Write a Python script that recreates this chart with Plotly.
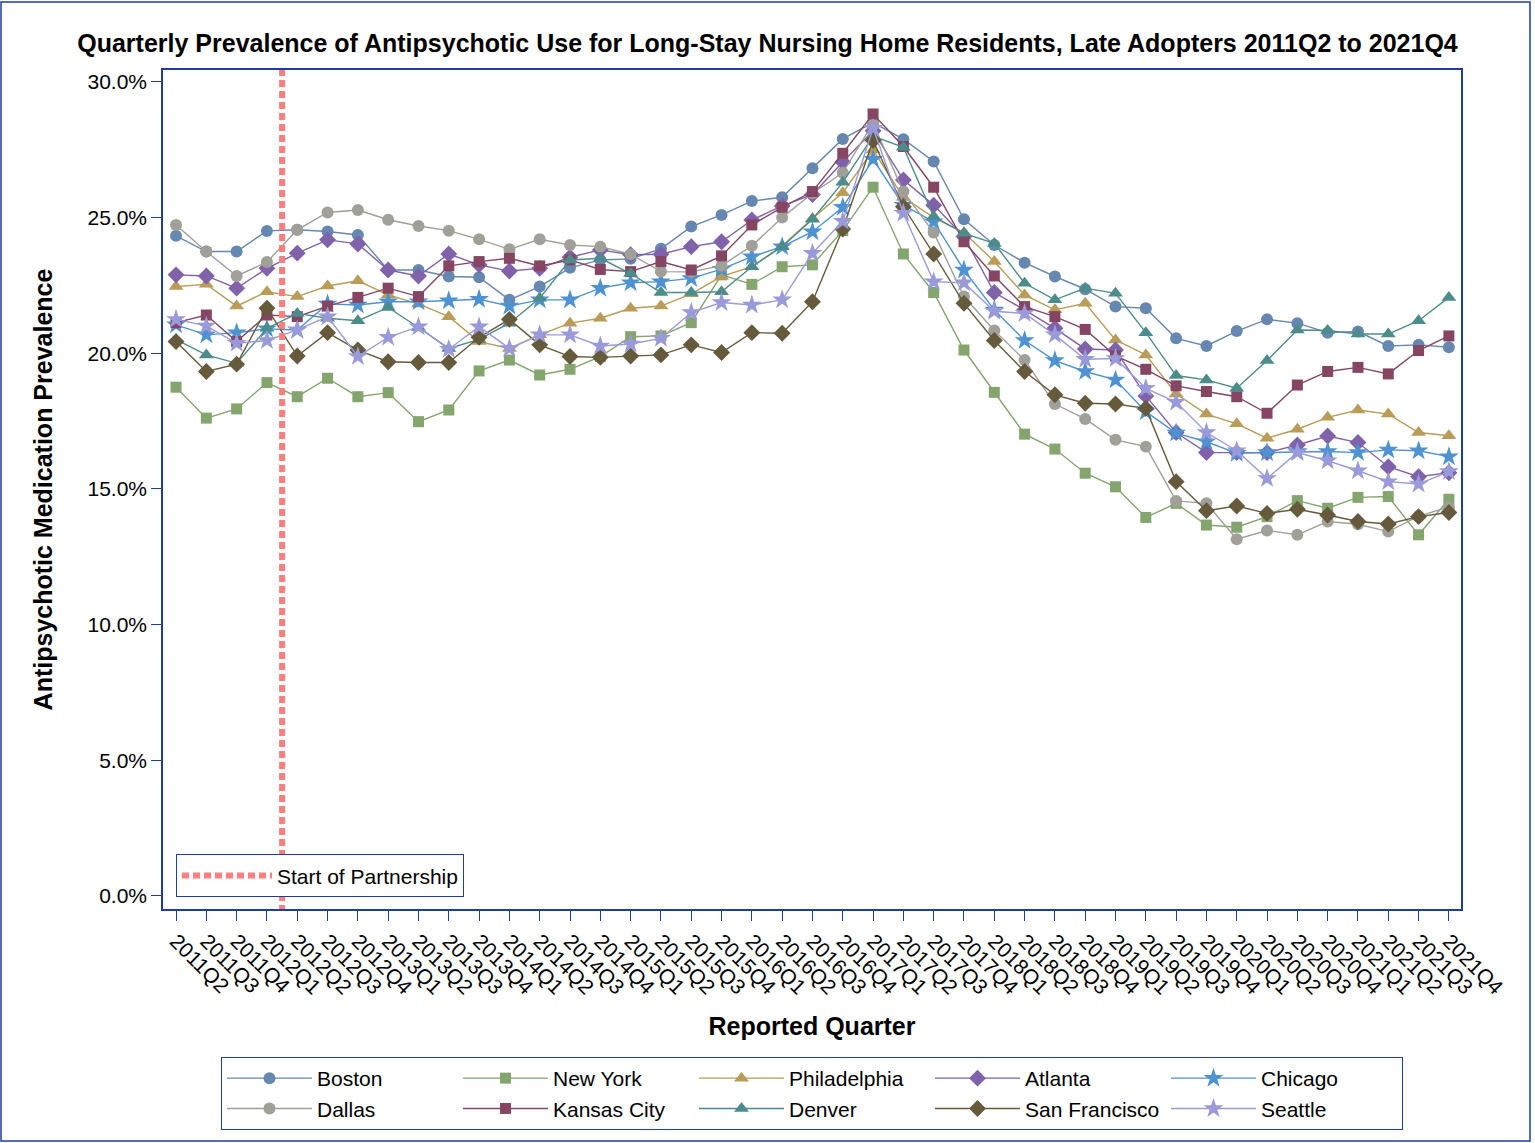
import plotly.graph_objects as go

quarters = ["2011Q2", "2011Q3", "2011Q4"] + [f"{y}Q{q}" for y in range(2012, 2022) for q in range(1, 5)]

boston = [24.33, 23.75, 23.75, 24.51, 24.55, 24.49, 24.36, 23.07, 23.07, 22.83,
          22.80, 21.97, 22.46, 23.15, 23.44, 23.48, 23.85, 24.67, 25.10, 25.61,
          25.75, 26.82, 27.90, 28.50, 27.89, 27.07, 24.94, 23.99, 23.34, 22.83,
          22.36, 21.72, 21.66, 20.55, 20.27, 20.82, 21.25, 21.11, 20.76, 20.80,
          20.27, 20.31, 20.22]
new_york = [18.75, 17.61, 17.95, 18.92, 18.40, 19.08, 18.40, 18.55, 17.48, 17.91,
            19.35, 19.75, 19.20, 19.41, 19.88, 20.61, 20.64, 21.13, 22.89, 22.54,
            23.19, 23.26, 24.52, 26.12, 23.66, 22.24, 20.12, 18.56, 17.02, 16.47,
            15.58, 15.08, 13.95, 14.47, 13.67, 13.59, 13.98, 14.57, 14.29, 14.69,
            14.72, 13.31, 14.62]
philadelphia = [22.46, 22.54, 21.74, 22.27, 22.09, 22.48, 22.67, 22.15, 21.82, 21.35,
                20.43, 20.18, 20.68, 21.11, 21.29, 21.66, 21.74, 22.19, 22.83, 23.19,
                23.96, 24.97, 25.92, 27.49, 25.75, 25.00, 24.45, 23.38, 22.15, 21.60,
                21.84, 20.49, 19.94, 18.50, 17.76, 17.40, 16.87, 17.20, 17.64, 17.91,
                17.76, 17.08, 16.96]
atlanta = [22.89, 22.85, 22.40, 23.13, 23.69, 24.18, 24.03, 23.07, 22.85, 23.66,
           23.26, 23.03, 23.13, 23.54, 23.81, 23.63, 23.65, 23.93, 24.11, 24.91,
           25.43, 25.85, 27.05, 28.20, 26.39, 25.46, 24.30, 22.24, 21.60, 20.92,
           20.16, 20.12, 18.43, 17.08, 16.34, 16.34, 16.34, 16.62, 16.95, 16.71,
           15.82, 15.45, 15.60]
chicago = [21.05, 20.68, 20.76, 20.90, 20.86, 21.82, 21.78, 21.90, 21.90, 21.94,
           21.99, 21.74, 21.97, 21.97, 22.40, 22.60, 22.64, 22.76, 23.10, 23.56,
           23.93, 24.48, 25.38, 27.15, 25.46, 24.85, 23.07, 21.60, 20.47, 19.73,
           19.33, 19.02, 17.85, 17.06, 16.74, 16.32, 16.34, 16.38, 16.38, 16.34,
           16.44, 16.41, 16.19]
dallas = [24.73, 23.75, 22.85, 23.36, 24.55, 25.19, 25.28, 24.92, 24.69, 24.52,
          24.20, 23.83, 24.20, 23.99, 23.93, 23.65, 23.01, 23.00, 23.23, 23.96,
          25.00, 25.90, 26.65, 28.48, 25.96, 24.45, 22.09, 20.84, 19.75, 18.13,
          17.58, 16.81, 16.56, 14.56, 14.47, 13.15, 13.47, 13.31, 13.80, 13.70,
          13.43, 14.00, 14.33]
kansas_city = [21.13, 21.41, 20.43, 21.41, 21.35, 21.74, 22.06, 22.40, 22.09, 23.22,
               23.38, 23.50, 23.22, 23.44, 23.09, 23.01, 23.38, 23.07, 23.59, 24.73,
               25.38, 25.96, 27.37, 28.82, 27.62, 26.12, 24.11, 22.85, 21.72, 21.35,
               20.88, 19.90, 19.41, 18.80, 18.59, 18.40, 17.79, 18.83, 19.33, 19.48,
               19.24, 20.10, 20.64]
denver = [20.50, 19.94, 19.63, 20.92, 21.47, 21.29, 21.20, 21.69, 20.95, 20.18,
          20.51, 21.11, 22.03, 23.44, 23.50, 22.94, 22.24, 22.24, 22.27, 23.19,
          23.93, 24.94, 26.30, 28.00, 27.59, 25.04, 24.42, 24.05, 22.58, 21.97,
          22.40, 22.21, 20.76, 19.18, 19.02, 18.71, 19.73, 20.86, 20.84, 20.71,
          20.71, 21.20, 22.06]
san_francisco = [20.43, 19.33, 19.60, 21.66, 19.90, 20.76, 20.12, 19.69, 19.66, 19.66,
                 20.59, 21.25, 20.31, 19.88, 19.85, 19.90, 19.94, 20.31, 20.03, 20.76,
                 20.74, 21.90, 24.58, 27.84, 25.40, 23.66, 21.84, 20.47, 19.33, 18.47,
                 18.16, 18.13, 17.97, 15.27, 14.20, 14.37, 14.10, 14.25, 14.04, 13.80,
                 13.71, 13.98, 14.13]
seattle = [21.25, 21.01, 20.37, 20.47, 20.86, 21.35, 19.88, 20.59, 20.98, 20.15,
           20.98, 20.18, 20.68, 20.68, 20.27, 20.34, 20.55, 21.50, 21.87, 21.78,
           21.97, 23.69, 24.87, 28.29, 25.16, 22.64, 22.60, 21.55, 21.47, 20.68,
           19.78, 19.81, 18.71, 18.20, 17.08, 16.41, 15.39, 16.34, 16.04, 15.67,
           15.27, 15.18, 15.64]

series_names = ["Boston", "New York", "Philadelphia", "Atlanta", "Chicago",
                "Dallas", "Kansas City", "Denver", "San Francisco", "Seattle"]
series_values = [boston, new_york, philadelphia, atlanta, chicago,
                 dallas, kansas_city, denver, san_francisco, seattle]
colors = ["#6687B0", "#84A56E", "#B89C58", "#7F62AA", "#4E92D2",
          "#A09F98", "#854563", "#4C8C8A", "#665A3C", "#9A9ADA"]
symbols = ["circle", "square", "triangle-up", "diamond", "star",
           "circle", "square", "triangle-up", "diamond", "star"]
sizes = [12, 11, 13, 13, 15, 12, 11, 13, 13, 15]

y_tick_vals = [0, 5, 10, 15, 20, 25, 30]
y_tick_text = ["0.0%", "5.0%", "10.0%", "15.0%", "20.0%", "25.0%", "30.0%"]

partnership_x = 3.5  # between 2012Q1 and 2012Q2

FONT = "Arial, 'Liberation Sans', sans-serif"
NAVY = "#1F3C9F"

x_idx = list(range(len(quarters)))

fig = go.Figure()
for name, vals, c, s, sz in zip(series_names, series_values, colors, symbols, sizes):
    fig.add_trace(go.Scatter(
        x=x_idx, y=vals, mode="lines+markers", name=name,
        line=dict(color=c, width=1.4),
        marker=dict(symbol=s, size=sz, color=c, line=dict(width=0)),
        legend="legend",
    ))

fig.add_trace(go.Scatter(
    x=[partnership_x, partnership_x], y=[-1, 31], mode="lines",
    name="Start of Partnership",
    line=dict(color="#FF7F7F", width=6, dash="7px,4px"),
    legend="legend2", cliponaxis=True,
))

fig.update_layout(
    width=1535, height=1143,
    margin=dict(l=163, r=74, t=70, b=234, autoexpand=False),
    paper_bgcolor="white", plot_bgcolor="white",
    font=dict(family=FONT, size=21, color="black"),
    title=dict(
        text="<b>Quarterly Prevalence of Antipsychotic Use for Long-Stay Nursing Home Residents, Late Adopters 2011Q2 to 2021Q4</b>",
        x=0.5, xref="container", xanchor="center",
        y=1 - 43 / 1143, yref="container", yanchor="middle",
        font=dict(family=FONT, size=25, color="black"),
    ),
    xaxis=dict(
        range=[-0.43, 42.4], tickmode="array", tickvals=x_idx, ticktext=quarters,
        tickangle=45, ticks="outside", ticklen=10, tickcolor=NAVY, tickwidth=1.2,
        showline=True, linecolor=NAVY, linewidth=1.5, mirror=True,
        showgrid=False, zeroline=False,
        tickfont=dict(family=FONT, size=21, color="black"),
        title=dict(text="<b>Reported Quarter</b>", font=dict(family=FONT, size=25), standoff=20),
    ),
    yaxis=dict(
        range=[-0.48, 30.44], tickmode="array", tickvals=y_tick_vals, ticktext=y_tick_text,
        ticks="outside", ticklen=10, tickcolor=NAVY, tickwidth=1.2,
        showline=True, linecolor=NAVY, linewidth=1.5, mirror=True,
        showgrid=False, zeroline=False,
        tickfont=dict(family=FONT, size=21, color="black"),
        title=dict(text="<b>Antipsychotic Medication Prevalence</b>", font=dict(family=FONT, size=25), standoff=28),
    ),
    legend=dict(
        orientation="h", x=0.5, xanchor="center",
        yref="container", y=1 - 1093.5 / 1143, yanchor="middle",
        bordercolor=NAVY, borderwidth=1, entrywidth=136, itemwidth=85,
        font=dict(family=FONT, size=21, color="black"),
        traceorder="normal", tracegroupgap=0,
    ),
    legend2=dict(
        x=0.01, xanchor="left", y=0.014, yanchor="bottom",
        bordercolor=NAVY, borderwidth=1, bgcolor="white", itemwidth=90,
        font=dict(family=FONT, size=21, color="black"),
    ),
    shapes=[dict(type="rect", xref="paper", yref="paper",
                 x0=-162 / 1298, x1=(1298 + 69) / 1298,
                 y0=-(1143 - 909 - 2) / 839, y1=(839 + 68) / 839,
                 line=dict(color=NAVY, width=1.5), fillcolor="rgba(0,0,0,0)", layer="below")],
)

fig.write_html("out.html", config={"displayModeBar": False},
               post_script="document.body.style.margin='0';document.body.style.overflow='hidden';")
